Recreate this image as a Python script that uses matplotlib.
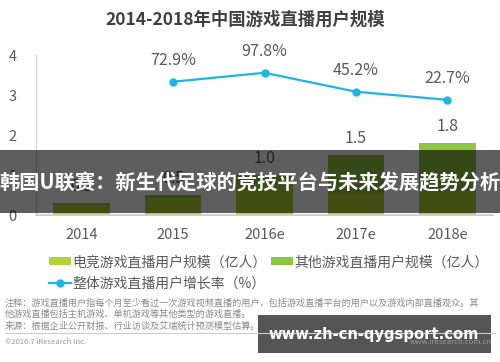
import matplotlib.pyplot as plt
import numpy as np

plt.rcParams['font.family'] = ['Noto Sans CJK SC', 'DejaVu Sans']

# 数据
years = ['2014', '2015', '2016e', '2017e', '2018e']
total = [0.3, 0.5, 1.0, 1.5, 1.8]
esports = [0.25, 0.42, 0.75, 0.55, 0.6]
other = [t - e for t, e in zip(total, esports)]
growth_years = ['2015', '2016e', '2017e', '2018e']
growth = [72.9, 97.8, 45.2, 22.7]

c_esports = '#b2d235'
c_other = '#8dc63f'
c_line = '#1fb4e4'
c_text = '#595959'

fig = plt.figure(figsize=(5, 3.62), dpi=100)
ax = fig.add_axes([0.072, 0.406, 0.914, 0.442])

x = np.arange(len(years))
b1 = ax.bar(x, esports, width=0.62, color=c_esports, label='电竞游戏直播用户规模（亿人）')
b2 = ax.bar(x, other, width=0.62, bottom=esports, color=c_other, label='其他游戏直播用户规模（亿人）')
for xi, t in zip(x, total):
    ax.annotate(f'{t:.1f}', (xi, t), xytext=(0, 6), textcoords='offset points',
                ha='center', va='bottom', fontsize=11.5, color=c_text)

ax.set_xlim(-0.5, len(years) - 0.5)
ax.set_ylim(0, 4)
ax.set_yticks([0, 1, 2, 3, 4])
ax.set_xticks(x)
ax.set_xticklabels(years)
ax.tick_params(length=0, labelsize=10.5, colors=c_text)
ax.tick_params(axis='y', pad=14)
ax.tick_params(axis='x', pad=9)
for s in ['top', 'right']:
    ax.spines[s].set_visible(False)
ax.spines['left'].set_color('#d0d0d0')
ax.spines['bottom'].set_color('#c8c8c8')
ax.spines['bottom'].set_linewidth(1.2)

ax2 = ax.twinx()
gx = [years.index(g) for g in growth_years]
ln, = ax2.plot(gx, growth, color=c_line, lw=1.6, marker='o', ms=5,
               label='整体游戏直播用户增长率（%）')
for xi, g in zip(gx, growth):
    ax2.annotate(f'{g}%', (xi, g), xytext=(0, 9), textcoords='offset points',
                 ha='center', va='bottom', fontsize=11.5, color=c_text)
ax2.set_ylim(-297, 147)
ax2.axis('off')

fig.legend([b1, ln, b2], [b1.get_label(), ln.get_label(), b2.get_label()],
           ncol=2, loc='upper left', bbox_to_anchor=(0.097, 0.295),
           frameon=False, fontsize=10, handlelength=1.6, handleheight=0.5,
           handletextpad=0.1, columnspacing=0.3, labelspacing=0.55,
           labelcolor=c_text, borderaxespad=0, borderpad=0)

fig.text(0.49, 0.947, '2014-2018年中国游戏直播用户规模', ha='center', va='center',
         fontsize=12.5, fontweight='bold', color='#404040')

notes = ['注释：游戏直播用户指每个月至少看过一次游戏视频直播的用户，包括游戏直播平台的用户以及游戏内部直播观众。其',
         '他游戏直播包括主机游戏、单机游戏等其他类型的游戏直播。',
         '来源：根据企业公开财报、行业访谈及艾瑞统计预测模型估算。']
for i, n in enumerate(notes):
    fig.text(0.01, (362 - 303 - i * 11.5) / 362, n, ha='left', va='center',
             fontsize=6.6, color='#8a8a8a')
fig.add_artist(plt.Line2D([0.01, 0.99], [(362 - 333) / 362] * 2, color='#cccccc', lw=0.8))
fig.text(0.01, (362 - 342) / 362, '©2016.7 iResearch Inc.', ha='left', va='center',
         fontsize=5.5, color='#999999')
fig.text(0.985, (362 - 342) / 362, 'www.iresearch.com.cn', ha='right', va='center',
         fontsize=5.5, color='#999999')

# 横幅
fig.add_artist(plt.Rectangle((0, (362 - 213) / 362), 1, 63 / 362, transform=fig.transFigure,
                             facecolor='black', alpha=0.63, edgecolor='none'))
fig.text(0.5, (362 - 183) / 362, '韩国U联赛：新生代足球的竞技平台与未来发展趋势分析',
         ha='center', va='center', fontsize=14.6, fontweight='bold', color='white')

# 水印
fig.add_artist(plt.Rectangle((258 / 500, (362 - 353) / 362), 233 / 500, 38 / 362,
                             transform=fig.transFigure, facecolor='#555555', edgecolor='none'))
fig.text(374 / 500, (362 - 334) / 362, 'www.zh-cn-qygsport.com', ha='center', va='center',
         fontsize=10.6, fontweight='bold', color='white', family='DejaVu Sans')

plt.savefig('out.png', dpi=100)
